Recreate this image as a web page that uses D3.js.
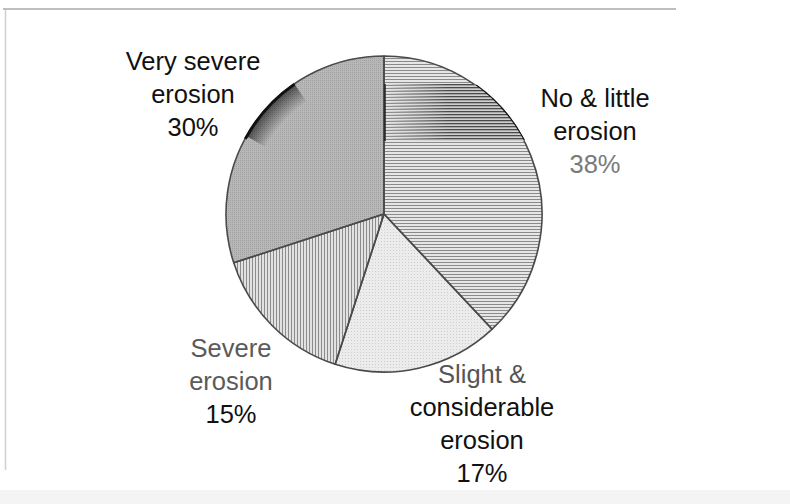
<!DOCTYPE html>
<html>
<head>
<meta charset="utf-8">
<script src="https://cdn.jsdelivr.net/npm/d3@7/dist/d3.min.js"></script>
<style>
  html, body { margin: 0; padding: 0; background: #fff; }
  svg { display: block; }
</style>
</head>
<body>
<svg id="chart" width="790" height="504"></svg>
<script>
// ---- data ----
const categories = ["No & little erosion", "Slight & considerable erosion", "Severe erosion", "Very severe erosion"];
const values = [38, 17, 15, 30];
const labelLines = [
  ["No & little", "erosion", "38%"],
  ["Slight &", "considerable", "erosion", "17%"],
  ["Severe", "erosion", "15%"],
  ["Very severe", "erosion", "30%"]
];

// ---- layout / styles (not data) ----
const W = 790, H = 504;
const cx = 384, cy = 214, R = 158;
const fills = ["url(#hlines)", "url(#dots)", "url(#vlines)", "url(#stipple)"];
const labelPos = [ // [center x, first baseline y]
  [595, 107], [482, 383], [231, 357], [193, 70]
];
const labelColors = [
  ["#111", "#111", "#7a7a7a"],
  ["#555", "#111", "#111", "#111"],
  ["#5a5a5a", "#5a5a5a", "#111"],
  ["#111", "#111", "#111"]
];
const lineGap = 33;

const svg = d3.select("#chart");

// frame pieces of the scanned page
svg.append("rect").attr("x", 0).attr("y", 0).attr("width", W).attr("height", H).attr("fill", "#fff");
svg.append("rect").attr("x", 0).attr("y", 490).attr("width", W).attr("height", 14).attr("fill", "#f4f4f4");
svg.append("line").attr("x1", 3).attr("x2", 676).attr("y1", 9).attr("y2", 9)
  .attr("stroke", "#a8a8a8").attr("stroke-width", 1.5);
svg.append("line").attr("x1", 5.5).attr("x2", 5.5).attr("y1", 10).attr("y2", 470)
  .attr("stroke", "#cfcfcf").attr("stroke-width", 1.5);

// patterns
const defs = svg.append("defs");
const hl = defs.append("pattern").attr("id", "hlines").attr("patternUnits", "userSpaceOnUse")
  .attr("width", 6).attr("height", 3);
hl.append("rect").attr("width", 6).attr("height", 3).attr("fill", "#e6e6e6");
hl.append("rect").attr("y", 0).attr("width", 6).attr("height", 1).attr("fill", "#8a8a8a");

const hlDark = defs.append("pattern").attr("id", "hlinesDark").attr("patternUnits", "userSpaceOnUse")
  .attr("width", 6).attr("height", 3);
hlDark.append("rect").attr("width", 6).attr("height", 3).attr("fill", "#cfcfcf");
hlDark.append("rect").attr("y", 0).attr("width", 6).attr("height", 1.3).attr("fill", "#4a4a4a");

const vl = defs.append("pattern").attr("id", "vlines").attr("patternUnits", "userSpaceOnUse")
  .attr("width", 3).attr("height", 6);
vl.append("rect").attr("width", 3).attr("height", 6).attr("fill", "#e2e2e2");
vl.append("rect").attr("x", 0).attr("width", 1).attr("height", 6).attr("fill", "#8c8c8c");

const dt = defs.append("pattern").attr("id", "dots").attr("patternUnits", "userSpaceOnUse")
  .attr("width", 3).attr("height", 3);
dt.append("rect").attr("width", 3).attr("height", 3).attr("fill", "#ececec");
dt.append("rect").attr("width", 1).attr("height", 1).attr("fill", "#cdcdcd");

const st = defs.append("pattern").attr("id", "stipple").attr("patternUnits", "userSpaceOnUse")
  .attr("width", 2).attr("height", 2);
st.append("rect").attr("width", 2).attr("height", 2).attr("fill", "#b8b8b8");
st.append("rect").attr("width", 1).attr("height", 1).attr("fill", "#a0a0a0");

const grad = defs.append("linearGradient").attr("id", "fadeL").attr("x1", "0").attr("x2", "1").attr("y1", "0").attr("y2", "0");
grad.append("stop").attr("offset", "0").attr("stop-color", "#fff").attr("stop-opacity", 0);
grad.append("stop").attr("offset", "0.4").attr("stop-color", "#fff").attr("stop-opacity", 1);
const msk = defs.append("mask").attr("id", "fadeMask");
msk.append("rect").attr("x", cx).attr("y", cy - R).attr("width", R).attr("height", R).attr("fill", "url(#fadeL)");

const rg = defs.append("radialGradient").attr("id", "edgeDark")
  .attr("gradientUnits", "userSpaceOnUse").attr("cx", 0).attr("cy", 0).attr("r", R);
rg.append("stop").attr("offset", "0.86").attr("stop-color", "#000").attr("stop-opacity", 0);
rg.append("stop").attr("offset", "1").attr("stop-color", "#000").attr("stop-opacity", 0.6);

// pie
const pie = d3.pie().value(d => d).sort(null).startAngle(0).endAngle(2 * Math.PI);
const arcs = pie(values);
const arc = d3.arc().innerRadius(0).outerRadius(R);

const g = svg.append("g").attr("transform", `translate(${cx},${cy})`);

g.selectAll("path.slice").data(arcs).join("path")
  .attr("class", "slice")
  .attr("d", arc)
  .attr("fill", (d, i) => fills[i]);

// scan artifact: darker hatch band in first slice
defs.append("clipPath").attr("id", "clip0").append("path")
  .attr("d", arc(arcs[0])).attr("transform", `translate(${cx},${cy})`);
svg.append("rect")
  .attr("x", cx).attr("y", cy - 130).attr("width", R).attr("height", 57)
  .attr("fill", "url(#hlinesDark)")
  .attr("clip-path", "url(#clip0)")
  .attr("mask", "url(#fadeMask)");
svg.append("line").attr("x1", cx + 1).attr("x2", cx + 1).attr("y1", cy - 130).attr("y2", cy - 73)
  .attr("stroke", "#222").attr("stroke-width", 1.5);

// scan artifact: darkened rim region of last slice
const a3 = arcs[3].startAngle, s3 = arcs[3].endAngle - a3;
const darkRim = d3.arc().innerRadius(R - 22).outerRadius(R);
g.append("path")
  .attr("d", darkRim({startAngle: a3 + s3 * 0.44, endAngle: a3 + s3 * 0.68}))
  .attr("fill", "url(#edgeDark)");

// slice outlines
g.selectAll("path.outline").data(arcs).join("path")
  .attr("class", "outline")
  .attr("d", arc)
  .attr("fill", "none")
  .attr("stroke", "#4a4a4a")
  .attr("stroke-width", 1.6)
  .attr("stroke-linejoin", "round");

// darker edge artifacts on the rim
const rim = d3.arc().innerRadius(R - 1.8).outerRadius(R + 1.2);
const a0 = arcs[0].startAngle, s0 = arcs[0].endAngle - a0;
g.append("path")
  .attr("d", rim({startAngle: a0 + s0 * 0.26, endAngle: a0 + s0 * 0.455}))
  .attr("fill", "#111");
g.append("path")
  .attr("d", rim({startAngle: a3 + s3 * 0.43, endAngle: a3 + s3 * 0.68}))
  .attr("fill", "#111");

// labels
const lbl = svg.append("g")
  .attr("font-family", "'Liberation Sans', Arial, Helvetica, sans-serif")
  .attr("font-size", 25.5)
  .attr("text-anchor", "middle");
labelLines.forEach((lines, i) => {
  const [x, y] = labelPos[i];
  lines.forEach((t, j) => {
    lbl.append("text")
      .attr("x", x)
      .attr("y", y + j * lineGap)
      .attr("fill", labelColors[i][j])
      .text(t);
  });
});
</script>
</body>
</html>
